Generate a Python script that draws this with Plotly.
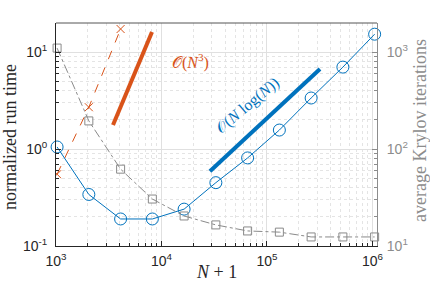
import plotly.graph_objects as go

# ---- data ----
n_plus_1 = [1024, 2048, 4096, 8192, 16384, 32768, 65536, 131072, 262144, 524288, 1048576]
run_time_new = [1.05, 0.34, 0.19, 0.19, 0.24, 0.45, 0.81, 1.57, 3.36, 7.0, 15.3]
n_direct = [1024, 2048, 4096]
run_time_direct = [0.55, 2.7, 17.3]
krylov_iters = [1100, 195, 62, 30.5, 20.4, 16.5, 14.3, 13.9, 12.4, 12.4, 12.4]
ref_n3_x = [3470, 8130]
ref_n3_y = [1.77, 16.1]
ref_nlogn_x = [28800, 318000]
ref_nlogn_y = [0.59, 6.7]

x_tickvals = [1e3, 1e4, 1e5, 1e6]
x_ticktext = ["10<sup>3</sup>", "10<sup>4</sup>", "10<sup>5</sup>", "10<sup>6</sup>"]
y_tickvals = [0.1, 1, 10]
y_ticktext = ["10<sup>-1</sup>", "10<sup>0</sup>", "10<sup>1</sup>"]
y2_tickvals = [10, 100, 1000]
y2_ticktext = ["10<sup>1</sup>", "10<sup>2</sup>", "10<sup>3</sup>"]


def minor_vals(d0, d1):
    return [m * 10.0 ** d for d in range(d0, d1) for m in range(2, 10)]


BLUE = "#0072BD"
ORANGE = "#D95319"
GRAY = "#8c8c8c"
DARK = "#262626"
SERIF = "Liberation Serif, DejaVu Serif, serif"
SANS = "Liberation Sans, Arial, sans-serif"

L, R, T, B = 56, 377, 23, 246
PW, PH = R - L, B - T

fig = go.Figure()

fig.add_trace(go.Scatter(x=n_plus_1, y=krylov_iters, yaxis="y2", mode="lines+markers",
                         line=dict(color="#8a8a8a", width=1, dash="dashdot"),
                         marker=dict(symbol="square-open", size=8, color="#8a8a8a", line=dict(width=1)),
                         showlegend=False, cliponaxis=False))
fig.add_trace(go.Scatter(x=n_direct, y=run_time_direct, mode="lines+markers",
                         line=dict(color=ORANGE, width=1, dash="dash"),
                         marker=dict(symbol="x-thin-open", size=8, color=ORANGE, line=dict(width=1, color=ORANGE)),
                         showlegend=False))
fig.add_trace(go.Scatter(x=ref_n3_x, y=ref_n3_y, mode="lines",
                         line=dict(color=ORANGE, width=4), showlegend=False))
fig.add_trace(go.Scatter(x=ref_nlogn_x, y=ref_nlogn_y, mode="lines",
                         line=dict(color=BLUE, width=4), showlegend=False))
fig.add_trace(go.Scatter(x=n_plus_1, y=run_time_new, mode="lines+markers",
                         line=dict(color=BLUE, width=1),
                         marker=dict(symbol="circle-open", size=12, color=BLUE, line=dict(width=1)),
                         showlegend=False, cliponaxis=False))

axis_common = dict(type="log", ticks="inside", ticklen=5, tickwidth=1, tickmode="array",
                   showline=True, mirror=False, automargin=False, zeroline=False,
                   tickfont=dict(family=SANS, size=14))


def minor_grid(vals, color, grid=True):
    return dict(tickmode="array", tickvals=vals, ticks="inside", ticklen=3, tickcolor=color,
                showgrid=grid, gridcolor="#e4e4e4", griddash="dot", gridwidth=1)


fig.update_layout(
    width=430, height=296,
    margin=dict(l=L, r=430 - R, t=T, b=296 - B, autoexpand=False),
    paper_bgcolor="white", plot_bgcolor="white",
    xaxis=dict(**axis_common, range=[3, 6.043], tickvals=x_tickvals, ticktext=x_ticktext,
               linecolor=DARK, tickcolor=DARK, color=DARK, ticklabelstandoff=2,
               showgrid=True, gridcolor="#e0e0e0", gridwidth=1,
               minor=minor_grid(minor_vals(3, 6), DARK)),
    yaxis=dict(**axis_common, range=[-1, 1.3], tickvals=y_tickvals, ticktext=y_ticktext,
               linecolor=DARK, tickcolor=DARK, color=DARK, ticklabelstandoff=5,
               showgrid=True, gridcolor="#e0e0e0", gridwidth=1,
               minor=minor_grid(minor_vals(-1, 2), DARK)),
    yaxis2=dict(**axis_common, range=[1, 3.3], tickvals=y2_tickvals, ticktext=y2_ticktext,
                overlaying="y", side="right", ticklabelstandoff=6,
                linecolor=GRAY, tickcolor=GRAY, color=GRAY, showgrid=False,
                minor=minor_grid(minor_vals(1, 4), GRAY, grid=False)),
    shapes=[dict(type="line", xref="paper", yref="paper", x0=0, x1=1, y0=1, y1=1,
                 line=dict(color="#555555", width=1))],
    annotations=[
        dict(text="𝒪(<i>N</i><sup>3</sup>)", xref="paper", yref="paper",
             x=(190 - L) / PW, y=(B - 49) / PH, showarrow=False,
             font=dict(family=SERIF, size=16, color=ORANGE)),
        dict(text="𝒪(<i>N</i> log(<i>N</i>))", xref="paper", yref="paper",
             x=(248 - L) / PW, y=(B - 105) / PH, showarrow=False, textangle=-40,
             font=dict(family=SERIF, size=16, color=BLUE)),
        dict(text="normalized run time", xref="paper", yref="paper",
             x=(10 - L) / PW, y=(B - 137) / PH, showarrow=False, textangle=-90,
             xanchor="center", yanchor="middle",
             font=dict(family=SERIF, size=18, color=DARK)),
        dict(text="average Krylov iterations", xref="paper", yref="paper",
             x=(420 - L) / PW, y=(B - 130) / PH, showarrow=False, textangle=-90,
             xanchor="center", yanchor="middle",
             font=dict(family=SERIF, size=18, color=GRAY)),
        dict(text="<i>N</i> + 1", xref="paper", yref="paper",
             x=(216 - L) / PW, y=(B - 284) / PH, showarrow=False,
             font=dict(family=SERIF, size=18, color=DARK)),
    ],
)

fig.write_html("out.html", post_script="document.body.style.margin='0';",
               config={"displayModeBar": False})
